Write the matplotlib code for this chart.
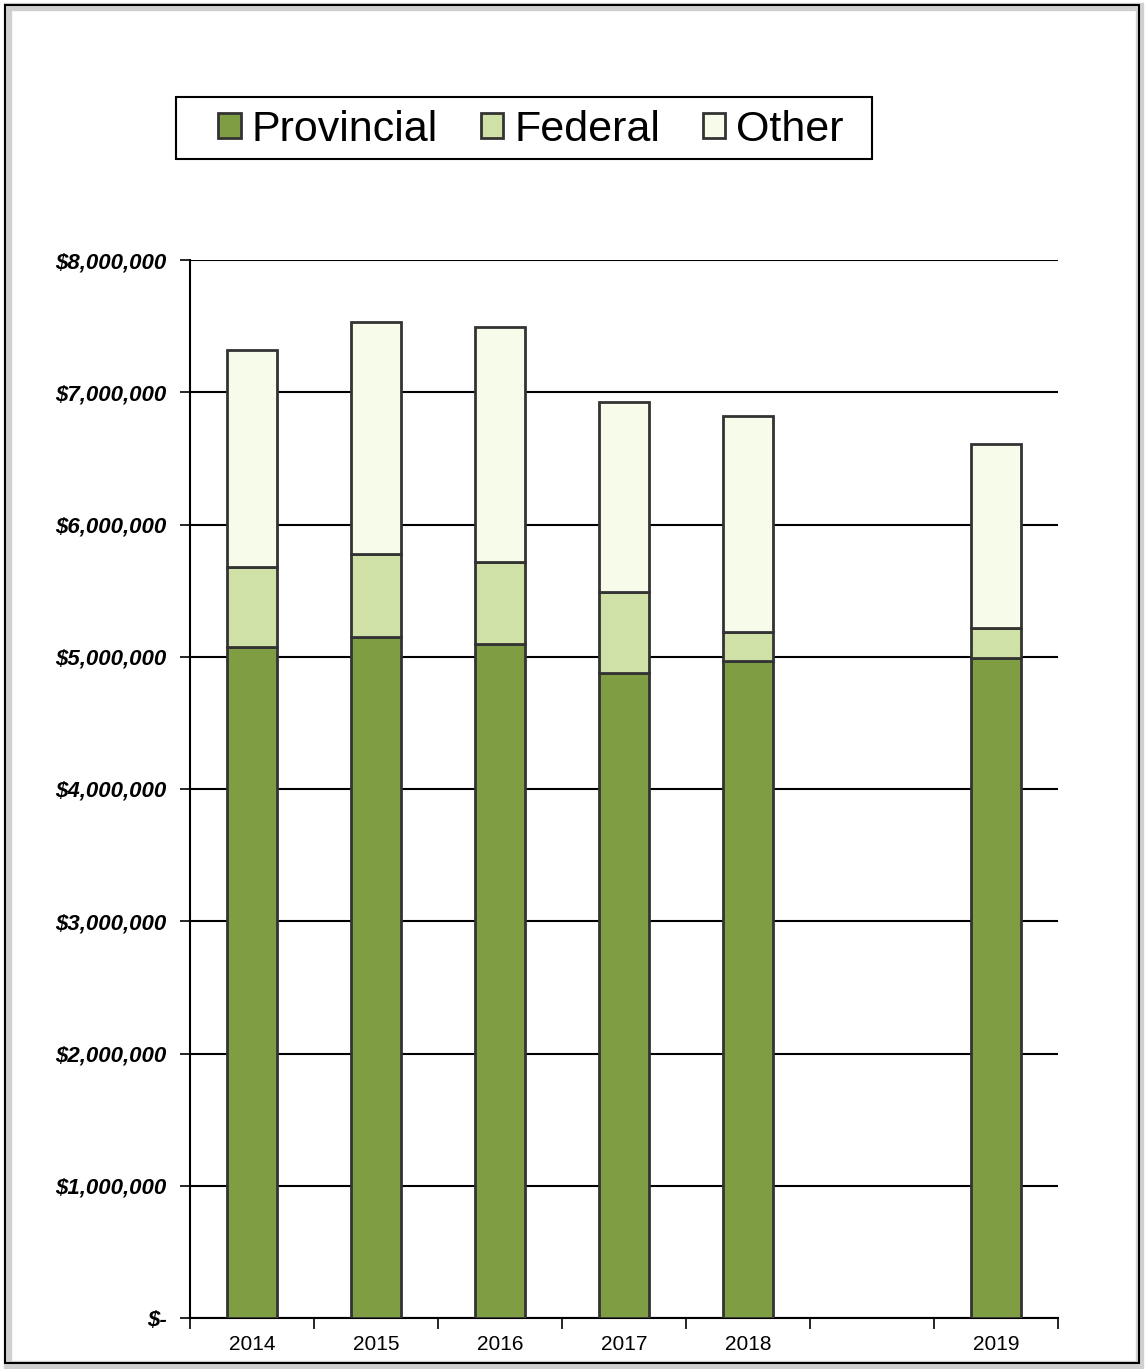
import numpy as np
import matplotlib
matplotlib.use("Agg")
import matplotlib.pyplot as plt
from matplotlib.patches import Rectangle
from matplotlib.ticker import FuncFormatter, MultipleLocator, FixedLocator

categories = ['2014', '2015', '2016', '2017', '2018', '', '2019']
provincial = [5.07e6, 5.15e6, 5.10e6, 4.88e6, 4.97e6, np.nan, 4.99e6]
federal    = [0.61e6, 0.63e6, 0.62e6, 0.61e6, 0.22e6, np.nan, 0.23e6]
other      = [1.64e6, 1.75e6, 1.77e6, 1.44e6, 1.63e6, np.nan, 1.39e6]
series_names = ['Provincial', 'Federal', 'Other']

colors = ['#7f9e43', '#d0e1a7', '#f7fbea']
edge = '#333333'

plt.rcParams['font.family'] = ['Liberation Sans', 'DejaVu Sans']

fig = plt.figure(figsize=(11.45, 13.69), dpi=100)
ax = fig.add_axes([190/1145, 51/1369, (1058-190)/1145, (1318-260)/1369])

x = np.arange(len(categories))
prov = np.array(provincial)
fed = np.array(federal)
oth = np.array(other)
w = 0.4
ax.bar(x, prov, w, color=colors[0], edgecolor=edge, linewidth=2, zorder=3)
ax.bar(x, fed, w, bottom=prov, color=colors[1], edgecolor=edge, linewidth=2, zorder=3)
ax.bar(x, oth, w, bottom=prov + fed, color=colors[2], edgecolor=edge, linewidth=2, zorder=3)

ax.set_xlim(-0.5, len(categories) - 0.5)
ax.set_ylim(0, 8e6)
ax.yaxis.set_major_locator(MultipleLocator(1e6))
ax.yaxis.grid(True, color='black', linewidth=1.5, zorder=0)

def money(v, pos):
    if v == 0:
        return '$-'
    return '${:,.0f}'.format(v)
ax.yaxis.set_major_formatter(FuncFormatter(money))
for lab in ax.get_yticklabels():
    lab.set_fontstyle('italic')
    lab.set_fontweight('bold')
    lab.set_fontsize(16)
ax.tick_params(axis='y', length=7, width=1.2, pad=10, direction='out')

ax.set_xticks(x)
ax.set_xticklabels(categories, fontsize=15)
ax.tick_params(axis='x', which='major', length=0, pad=12)
ax.xaxis.set_minor_locator(FixedLocator(np.arange(-0.5, len(categories), 1.0)))
ax.tick_params(axis='x', which='minor', length=8, width=1.2, direction='out')

for s in ['top', 'right']:
    ax.spines[s].set_visible(False)
ax.spines['left'].set_linewidth(1.5)
ax.spines['bottom'].set_linewidth(1.5)

handles = [Rectangle((0, 0), 1, 1, facecolor=c, edgecolor=edge, linewidth=2) for c in colors]
leg = fig.legend(handles, series_names, loc='center', bbox_to_anchor=(531/1145, 1 - 130/1369),
                 ncol=3, fontsize=31, frameon=False,
                 handlelength=0.52, handleheight=0.52, handletextpad=0.25, columnspacing=1.0,
                 borderpad=0.3, borderaxespad=0)
fig.patches.append(Rectangle((176/1145, 1 - 159/1369), (872-176)/1145, 62/1369,
                             transform=fig.transFigure, facecolor='white',
                             edgecolor='black', linewidth=1.5, zorder=0.5))

# outer frame with shadow
fig.patches.append(Rectangle((8/1145, 4/1369), 1132/1145, 1358/1369, transform=fig.transFigure,
                             facecolor='none', edgecolor='#d0d0d0', linewidth=6, zorder=0))
fig.patches.append(Rectangle((5/1145, 6/1369), 1134/1145, 1358/1369, transform=fig.transFigure,
                             facecolor='none', edgecolor='black', linewidth=1.5, zorder=1))

fig.savefig('out.png', dpi=100)
